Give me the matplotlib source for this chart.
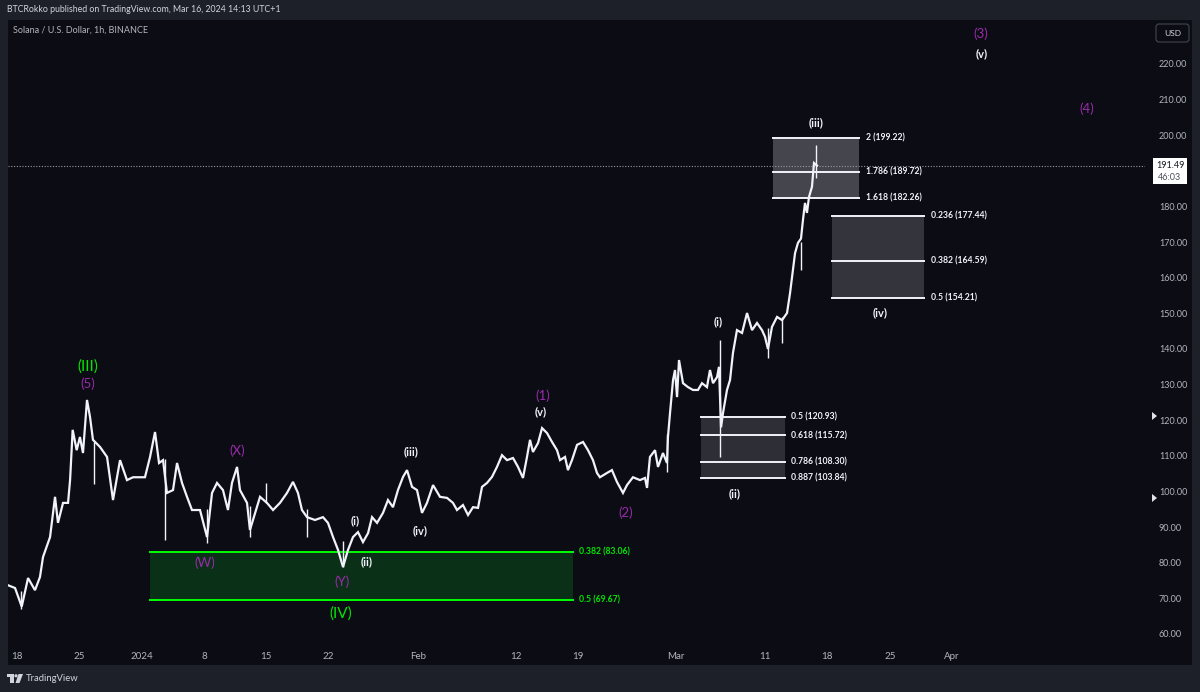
import matplotlib
matplotlib.use("Agg")
import matplotlib.pyplot as plt
from matplotlib.patches import Rectangle, FancyBboxPatch, Polygon, Circle

plt.rcParams['font.family'] = ['Lato', 'DejaVu Sans']

# x = days since 2023-12-18 00:00, hourly SOL/USD path
days = [-1.12, -0.22, 0.53, 1.24, 2.02, 2.58, 2.92, 3.71, 4.27, 4.60, 5.17, 5.73, 5.96, 6.25,
        6.70, 7.07, 7.41, 7.86, 8.20, 8.53, 9.32, 10.11, 10.78, 11.57, 12.35, 13.03, 13.81,
        14.37, 14.94, 15.50, 15.95, 16.40, 16.84, 17.52, 17.97, 18.53, 19.09, 19.65, 20.55,
        21.34, 21.90, 22.46, 23.13, 23.69, 24.14, 24.71, 25.04, 25.83, 26.16, 26.50, 27.29,
        28.07, 28.75, 29.53, 30.32, 30.99, 31.55, 32.00, 32.57, 33.46, 34.36, 34.92, 35.49,
        36.05, 36.61, 37.17, 37.73, 38.29, 38.85, 39.42, 39.87, 40.43, 41.10, 41.66, 42.22,
        42.78, 43.35, 43.80, 44.36, 44.92, 45.48, 46.04, 46.72, 47.50, 48.29, 48.96, 49.41,
        50.08, 50.65, 51.21, 51.77, 52.22, 52.78, 53.34, 53.90, 54.46, 55.03, 55.70, 56.26,
        56.82, 57.27, 57.61, 57.94, 58.51, 58.96, 59.52, 60.08, 60.64, 60.98, 61.54, 61.87,
        62.32, 62.89, 63.56, 64.12, 64.68, 65.13, 65.46, 66.25, 66.81, 67.37, 68.05, 68.50,
        69.17, 69.96, 70.52, 70.75, 71.08, 71.65, 71.98, 72.54, 72.99, 73.10, 73.33, 73.67,
        73.89, 74.12, 74.34, 74.79, 75.35, 75.91, 76.47, 76.92, 77.48, 77.82, 78.16, 78.61,
        78.83, 79.06, 79.28, 79.73, 80.07, 80.40, 80.85, 81.42, 81.98, 82.54, 83.10, 83.66,
        84.00, 84.33, 84.78, 85.35, 85.91, 86.47, 86.81, 87.03, 87.37, 87.70, 88.04, 88.26,
        88.49, 88.71, 88.94, 89.27, 89.50, 89.84]
close = [73.8, 72.9, 67.7, 75.7, 72.3, 76.0, 81.6, 87.2, 98.5, 91.2, 96.8, 96.8, 103.2, 117.3,
         111.6, 115.3, 110.8, 125.7, 120.9, 114.5, 112.5, 109.7, 97.6, 108.8, 103.2, 104.0, 104.0,
         104.0, 109.7, 116.7, 108.0, 108.8, 99.6, 100.4, 108.0, 102.4, 98.5, 94.8, 94.8,
         87.2, 99.6, 102.4, 100.4, 94.8, 102.4, 106.9, 100.4, 96.8, 89.2, 92.0, 98.5,
         96.8, 94.8, 96.8, 99.6, 102.7, 99.6, 94.8, 92.8, 92.0, 92.8, 91.2, 87.2,
         83.6, 78.8, 83.6, 87.2, 88.6, 85.8, 88.3, 92.8, 91.2, 94.0, 97.6, 95.6,
         100.4, 104.1, 106.0, 101.3, 100.4, 94.0, 96.8, 101.8, 98.5, 98.2, 96.8, 94.8,
         96.2, 93.4, 95.6, 95.4, 101.3, 102.4, 104.1, 106.9, 110.2, 108.8, 109.4, 106.9,
         103.8, 109.7, 114.5, 111.1, 113.6, 117.8, 116.4, 113.9, 111.6, 108.8, 109.7, 106.0,
         108.8, 113.1, 113.9, 111.6, 108.8, 105.2, 104.0, 105.2, 106.0, 102.7, 99.6, 101.8,
         104.0, 103.2, 103.8, 101.0, 109.7, 111.6, 106.9, 110.8, 108.0, 115.3, 122.0, 131.3,
         134.1, 126.5, 136.9, 130.4, 129.3, 128.5, 128.5, 130.4, 129.3, 134.1, 130.4, 132.1,
         135.0, 118.0, 122.0, 128.5, 131.3, 138.9, 145.3, 144.5, 150.1, 145.3, 147.3, 145.3,
         143.4, 140.0, 146.2, 149.0, 148.1, 150.1, 155.7, 160.2, 166.9, 169.8, 171.0, 176.2,
         181.0, 178.2, 182.7, 185.5, 192.2, 191.49]

# long wicks visible on the hourly candles
wick_days = [0.5, 8.6, 16.6, 21.3, 26.2, 28.0, 32.6, 36.6, 73.0, 78.9, 84.3, 85.9, 88.0, 89.7]
wick_low = [67.0, 102.0, 86.4, 85.5, 87.2, 96.8, 87.2, 78.9, 105.5, 109.7, 137.5, 141.7, 162.2, 188.0]
wick_high = [72.0, 114.0, 109.0, 95.0, 96.0, 102.4, 95.0, 86.0, 116.0, 142.5, 146.0, 149.0, 170.0, 197.3]

last_price = 191.49

# fibonacci zones: (start day, end day), ratios, prices
green_span = (14.94, 62.4)
green_ratio = [0.382, 0.5]
green_price = [83.06, 69.67]

ii_span = (76.8, 86.2)
ii_ratio = [0.5, 0.618, 0.786, 0.887]
ii_price = [120.93, 115.72, 108.30, 103.84]

iii_span = (84.9, 94.6)
iii_ratio = [2, 1.786, 1.618]
iii_price = [199.22, 189.72, 182.26]

iv_span = (91.5, 101.9)
iv_ratio = [0.236, 0.382, 0.5]
iv_price = [177.44, 164.59, 154.21]

y_ticks = [60, 70, 80, 90, 100, 110, 120, 130, 140, 150, 160, 170, 180, 200, 210, 220]
x_ticks = [0, 7, 14, 21, 28, 35, 45, 56, 63, 74, 84, 91, 98, 105]
x_labels = ["18", "25", "2024", "8", "15", "22", "Feb", "12", "19", "Mar", "11", "18", "25", "Apr"]

OUTER = "#1e2029"
PANEL = "#0c0d14"
AXTXT = "#b2b5be"
WHITE = "#f0f3fa"
PURPLE = "#9a2bab"
GREEN = "#00e600"

W, H = 1200, 692
fig = plt.figure(figsize=(12, 6.92), dpi=100)
fig.patch.set_facecolor(OUTER)

# pixel-space background layer
bg = fig.add_axes([0, 0, 1, 1])
bg.set_zorder(-1)
bg.set_xlim(0, W); bg.set_ylim(H, 0); bg.axis("off")
bg.add_patch(Rectangle((8, 20), 1184, 645, facecolor=PANEL, edgecolor="none"))

# main chart area (left of price scale, above time scale)
L, R, T, B = 8, 1145, 20, 645
ax = fig.add_axes([L / W, 1 - B / H, (R - L) / W, (B - T) / H])
ax.set_facecolor("none")
ax.set_xlim(-1.011, 126.67)
ax.set_ylim(56.91, 232.35)
for s in ax.spines.values():
    s.set_visible(False)

ax.yaxis.tick_right()
ax.set_yticks(y_ticks)
ax.set_yticklabels([f"{t:.2f}" for t in y_ticks])
ax.set_xticks(x_ticks)
ax.set_xticklabels(x_labels)
ax.tick_params(axis="y", length=0, pad=10, labelsize=6.5, labelcolor=AXTXT)
ax.tick_params(axis="x", length=0, pad=5, labelsize=7, labelcolor=AXTXT)

# price
ax.plot(days, close, color=WHITE, lw=1.6, solid_joinstyle="miter", zorder=4)
ax.vlines(wick_days, wick_low, wick_high, color=WHITE, lw=1.0, zorder=4)
ax.axhline(last_price, color="#9598a1", lw=0.8, ls=(0, (1, 1.5)), zorder=3)

# green zone
ax.add_patch(Rectangle((green_span[0], green_price[1]), green_span[1] - green_span[0],
                       green_price[0] - green_price[1], facecolor="#0b3018", edgecolor="none", zorder=1))
for r, p in zip(green_ratio, green_price):
    ax.plot(green_span, [p, p], color="#00ff00", lw=1.4, zorder=2)
    ax.annotate(f"{r} ({p:.2f})", (green_span[1], p), xytext=(4.5, 0), textcoords="offset points",
                ha="left", va="center", fontsize=6.2, color=GREEN, fontweight="bold")


def fib_box(span, ratios, prices, fill):
    lo, hi = min(prices), max(prices)
    ax.add_patch(Rectangle((span[0], lo), span[1] - span[0], hi - lo,
                           facecolor=fill, edgecolor="none", zorder=1))
    for r, p in zip(ratios, prices):
        ax.plot(span, [p, p], color=WHITE, lw=1.4, zorder=2)
        ax.annotate(f"{r} ({p:.2f})", (span[1], p), xytext=(4.5, 0), textcoords="offset points",
                    ha="left", va="center", fontsize=6.2, color=WHITE, fontweight="bold")


fib_box(ii_span, ii_ratio, ii_price, "#2e2f36")
fib_box(iii_span, iii_ratio, iii_price, "#45464d")
fib_box(iv_span, iv_ratio, iv_price, "#34353c")

# wave counts
waves = [
    ("(III)", 7.97, 135.2, GREEN, 11, "normal"),
    ("(5)", 7.97, 130.2, PURPLE, 9.5, "normal"),
    ("(X)", 24.71, 111.4, PURPLE, 9.5, "normal"),
    ("(W)", 21.11, 79.9, PURPLE, 9.5, "normal"),
    ("(Y)", 36.5, 74.6, PURPLE, 9.5, "normal"),
    ("(IV)", 36.38, 65.6, GREEN, 11, "normal"),
    ("(i)", 37.96, 91.7, WHITE, 8, "bold"),
    ("(ii)", 39.30, 80.2, WHITE, 8, "bold"),
    ("(iii)", 44.24, 111.1, WHITE, 8, "bold"),
    ("(iv)", 45.26, 88.9, WHITE, 8, "bold"),
    ("(1)", 59.07, 126.8, PURPLE, 9.5, "normal"),
    ("(v)", 58.84, 122.3, WHITE, 8, "bold"),
    ("(2)", 68.39, 94.0, PURPLE, 9.5, "normal"),
    ("(i)", 78.72, 147.6, WHITE, 8, "bold"),
    ("(ii)", 80.63, 99.3, WHITE, 8, "bold"),
    ("(iii)", 89.72, 203.4, WHITE, 8, "bold"),
    ("(iv)", 96.91, 150.1, WHITE, 8, "bold"),
    ("(3)", 108.25, 228.4, PURPLE, 9.5, "normal"),
    ("(v)", 108.37, 222.8, WHITE, 8, "bold"),
    ("(4)", 120.16, 207.4, PURPLE, 9.5, "normal"),
]
for txt, d, p, col, fs, fw in waves:
    ax.text(d, p, txt, color=col, fontsize=fs, fontweight=fw, ha="center", va="center", zorder=5)

# pixel-space overlay: header, price tag, USD button, logo
top = fig.add_axes([0, 0, 1, 1])
top.set_zorder(5)
top.set_facecolor("none")
top.set_xlim(0, W); top.set_ylim(H, 0); top.axis("off")

top.text(7, 10, "BTCRokko published on TradingView.com, Mar 16, 2024 14:13 UTC+1",
         color="#d1d4dc", fontsize=6.3, va="center", ha="left")
top.text(13, 30, "Solana / U.S. Dollar, 1h, BINANCE", color=AXTXT, fontsize=6.5,
         va="center", ha="left")

top.add_patch(FancyBboxPatch((1156, 24), 33, 18, boxstyle="round,pad=0,rounding_size=3",
                             facecolor=PANEL, edgecolor="#434651", lw=0.8))
top.text(1172.5, 33, "USD", color="#d1d4dc", fontsize=6, ha="center", va="center")

top.add_patch(Rectangle((1153, 158), 34, 26, facecolor="white", edgecolor="none"))
top.text(1170, 165, f"{last_price:.2f}", color="#131722", fontsize=6.5, ha="center", va="center")
top.text(1170, 177, "46:03", color="#50535e", fontsize=6.5, ha="center", va="center")

# alert arrows on the price scale
for yy in (416, 498):
    top.add_patch(Polygon([(1152, yy - 4), (1152, yy + 4), (1157, yy)], closed=True,
                          facecolor="#e0e3eb", edgecolor="none"))

# TradingView logo
top.add_patch(Rectangle((7, 674), 6.5, 3, facecolor="#d1d4dc", edgecolor="none"))
top.add_patch(Rectangle((10, 674), 3.5, 9, facecolor="#d1d4dc", edgecolor="none"))
top.add_patch(Circle((16, 675.8), 1.6, facecolor="#d1d4dc", edgecolor="none"))
top.add_patch(Polygon([(18.5, 674), (23, 674), (19.5, 683), (15.5, 683)], closed=True,
                      facecolor="#d1d4dc", edgecolor="none"))
top.text(26, 678.5, "TradingView", color="#d1d4dc", fontsize=6.8, va="center", ha="left")

fig.savefig("out.png", dpi=100, facecolor=OUTER)
